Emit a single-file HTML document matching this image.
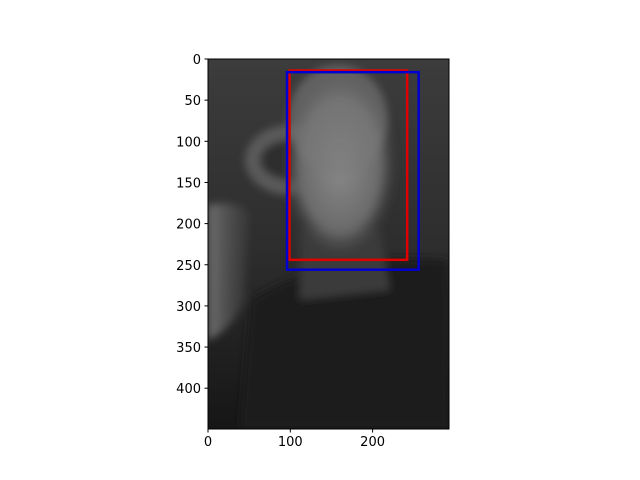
<!DOCTYPE html>
<html><head><meta charset="utf-8"><style>
body{margin:0;background:#fff;}
svg{display:block;font-family:"DejaVu Sans","Liberation Sans",sans-serif;}
</style></head><body>
<svg width="640" height="480" viewBox="0 0 640 480">
<defs>
<radialGradient id="face" cx="0.5" cy="0.5" r="0.5">
<stop offset="0" stop-color="#8a8a8a"/><stop offset="0.7" stop-color="#6a6a6a"/><stop offset="1" stop-color="#3a3a3a" stop-opacity="0"/>
</radialGradient>
<linearGradient id="bg" x1="0" y1="0" x2="0" y2="1">
<stop offset="0" stop-color="#3c3c3c"/><stop offset="0.5" stop-color="#2e2e2e"/><stop offset="1" stop-color="#161616"/>
</linearGradient>
<linearGradient id="hand" x1="0" y1="0" x2="1" y2="0">
<stop offset="0" stop-color="#707070"/><stop offset="1" stop-color="#505050" stop-opacity="0.3"/>
</linearGradient>
<filter id="blur"><feGaussianBlur stdDeviation="4"/></filter>
<clipPath id="clip"><rect x="208" y="59" width="241" height="370"/></clipPath>
</defs>
<g clip-path="url(#clip)">
<rect x="208" y="59" width="241" height="370" fill="url(#bg)"/>
<g filter="url(#blur)">
<ellipse cx="290" cy="160" rx="45" ry="35" fill="#5a5a5a"/>
<ellipse cx="290" cy="160" rx="30" ry="20" fill="#2e2e2e"/>
<path d="M240 429 L250 300 Q330 250 449 260 L449 429 Z" fill="#1c1c1c"/>
<path d="M300 230 L380 230 L390 290 L300 300 Z" fill="#3a3a3a"/>
<ellipse cx="340" cy="165" rx="58" ry="95" fill="url(#face)"/>
<ellipse cx="338" cy="120" rx="50" ry="55" fill="#7a7a7a" opacity="0.6"/>
<path d="M208 205 Q235 200 248 212 L245 300 Q232 330 208 340 Z" fill="url(#hand)"/>
</g>
</g>
<rect x="208" y="59" width="241" height="370" fill="none" stroke="#000" stroke-width="1"/>
<g id="xt"></g>
<g id="yt"></g>
<g id="boxes"></g>
</svg>
<script>
const xTicks=[0,100,200];
const yTicks=[0,50,100,150,200,250,300,350,400];
const redBox=[99,14,242,244];
const blueBox=[96,16,256,256];
const X0=208,Y0=59,S=0.823;
const sx=v=>X0+v*S, sy=v=>Y0+v*S;
const NS='http://www.w3.org/2000/svg';
function mk(t,a){const e=document.createElementNS(NS,t);for(const k in a)e.setAttribute(k,a[k]);return e;}
const xt=document.getElementById('xt'),yt=document.getElementById('yt'),bx=document.getElementById('boxes');
xTicks.forEach(v=>{const l=mk('line',{x1:sx(v),x2:sx(v),y1:429,y2:432.5,stroke:'#000'});


xt.appendChild(l);
const t=mk('text',{x:sx(v),y:446,'text-anchor':'middle','font-size':'13'});t.textContent=v;


xt.appendChild(t);});
yTicks.forEach(v=>{const l=mk('line',{x1:204.5,x2:208,y1:sy(v),y2:sy(v),stroke:'#000'});


yt.appendChild(l);
const t=mk('text',{x:201,y:sy(v)+5,'text-anchor':'end','font-size':'13'});t.textContent=v;


yt.appendChild(t);});
[[redBox,'#e00000','red-box'],[blueBox,'#0000d0','blue-box']].forEach(([b,c,n])=>{
const r=mk('rect',{x:sx(b[0]),y:sy(b[1]),width:(b[2]-b[0])*S,height:(b[3]-b[1])*S,fill:'none',stroke:c,'stroke-width':2.5});


bx.appendChild(r);});
</script>
</body></html>
